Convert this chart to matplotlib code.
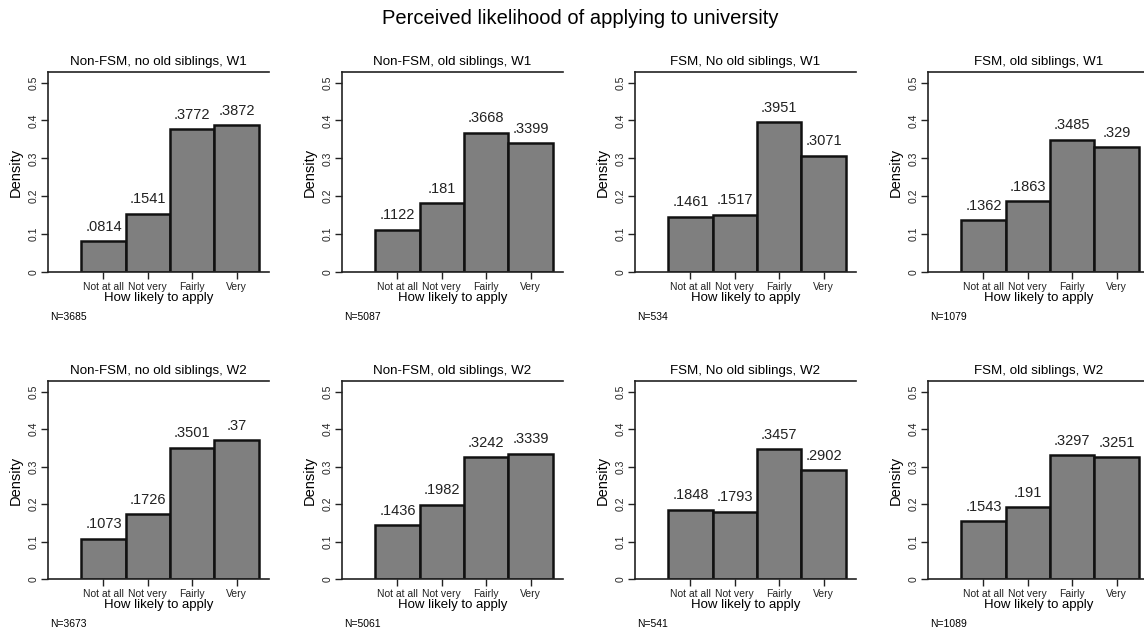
import matplotlib
matplotlib.use("Agg")
import matplotlib.pyplot as plt

plt.rcParams['font.family'] = ['Liberation Sans', 'DejaVu Sans']

categories = ["Not at all", "Not very", "Fairly", "Very"]

titles = [
    "Non-FSM, no old siblings, W1", "Non-FSM, old siblings, W1",
    "FSM, No old siblings, W1", "FSM, old siblings, W1",
    "Non-FSM, no old siblings, W2", "Non-FSM, old siblings, W2",
    "FSM, No old siblings, W2", "FSM, old siblings, W2",
]

nonfsm_nosib_w1 = [0.0814, 0.1541, 0.3772, 0.3872]
nonfsm_sib_w1 = [0.1122, 0.181, 0.3668, 0.3399]
fsm_nosib_w1 = [0.1461, 0.1517, 0.3951, 0.3071]
fsm_sib_w1 = [0.1362, 0.1863, 0.3485, 0.329]
nonfsm_nosib_w2 = [0.1073, 0.1726, 0.3501, 0.37]
nonfsm_sib_w2 = [0.1436, 0.1982, 0.3242, 0.3339]
fsm_nosib_w2 = [0.1848, 0.1793, 0.3457, 0.2902]
fsm_sib_w2 = [0.1543, 0.191, 0.3297, 0.3251]

series = [nonfsm_nosib_w1, nonfsm_sib_w1, fsm_nosib_w1, fsm_sib_w1,
          nonfsm_nosib_w2, nonfsm_sib_w2, fsm_nosib_w2, fsm_sib_w2]
counts = [3685, 5087, 534, 1079, 3673, 5061, 541, 1089]

W, H = 1144, 630
fig = plt.figure(figsize=(W / 100, H / 100), dpi=100)
fig.text(0.507, 1 - 18 / H, "Perceived likelihood of applying to university",
         ha="center", va="center", fontsize=14.5)

col_left = [48, 342, 635, 928]
row_top = [72, 381]
row_bot = [272, 579]
ax_w = 221

xpos = [1, 2, 3, 4]
for i, (vals, title, n) in enumerate(zip(series, titles, counts)):
    r, c = divmod(i, 4)
    ax = fig.add_axes([col_left[c] / W, 1 - row_bot[r] / H, ax_w / W,
                       (row_bot[r] - row_top[r]) / H])
    ax.bar(xpos, vals, width=1.0, color="#7f7f7f", edgecolor="#111111",
           linewidth=1.8)
    for x, v in zip(xpos, vals):
        lab = ("%.4g" % v).lstrip("0")
        ax.text(x, v + 0.02, lab, ha="center", va="bottom", fontsize=10.5,
                color="#222222")
    ax.set_xlim(-0.25, 4.73)
    ax.set_ylim(0, 0.528)
    ax.set_yticks([0, 0.1, 0.2, 0.3, 0.4, 0.5])
    ax.set_yticklabels(["0", "0.1", "0.2", "0.3", "0.4", "0.5"],
                       rotation=90, va="center", fontsize=7.5)
    ax.set_xticks(xpos)
    ax.set_xticklabels(categories, fontsize=7.5)
    ax.tick_params(axis="both", length=5, width=1.0, pad=2, colors="#222222")
    ax.spines["right"].set_visible(False)
    for s in ["left", "bottom", "top"]:
        ax.spines[s].set_linewidth(1.2)
        ax.spines[s].set_color("#222222")
    ax.set_ylabel("Density", fontsize=10.5, labelpad=4)
    ax.set_xlabel("How likely to apply", fontsize=9.5, labelpad=0)
    ax.set_title(title, fontsize=9.6, pad=5)
    ax.text(0.01, -0.225, "N=%d" % n, transform=ax.transAxes, fontsize=7.5,
            ha="left", va="center")

fig.savefig("out.png", dpi=100)
